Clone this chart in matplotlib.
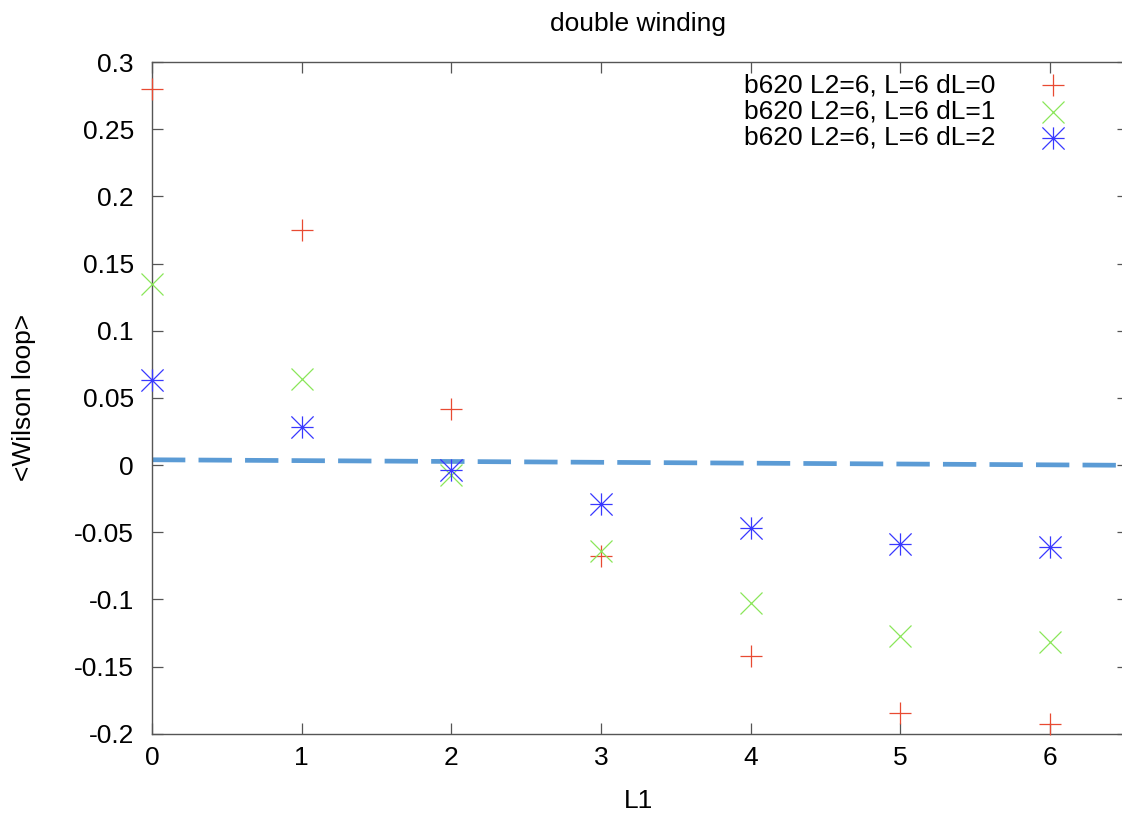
import matplotlib
matplotlib.use("Agg")
import matplotlib.pyplot as plt
import numpy as np
from matplotlib.path import Path

plt.rcParams['font.family'] = ['Liberation Sans', 'DejaVu Sans']
plt.rcParams['lines.scale_dashes'] = False

# ---- data ----
L1 = [0, 1, 2, 3, 4, 5, 6]
dL0 = [0.280, 0.175, 0.042, -0.068, -0.142, -0.1845, -0.193]
dL1 = [0.135, 0.064, -0.0075, -0.064, -0.103, -0.127, -0.132]
dL2 = [0.063, 0.0285, -0.004, -0.029, -0.047, -0.059, -0.061]
labels = ["b620 L2=6, L=6 dL=0", "b620 L2=6, L=6 dL=1", "b620 L2=6, L=6 dL=2"]
fit_x = [0.0, 6.52]
fit_y = [0.0039, -0.0002]
title = "double winding"
xlabel = "L1"
ylabel = "<Wilson loop>"
xticks = [0, 1, 2, 3, 4, 5, 6]
yticks = [-0.2, -0.15, -0.1, -0.05, 0, 0.05, 0.1, 0.15, 0.2, 0.25, 0.3]
ytick_labels = ["-0.2", "-0.15", "-0.1", "-0.05", "0", "0.05", "0.1", "0.15", "0.2", "0.25", "0.3"]

colors = ['#e84a32', '#8ae65a', '#3838ff']

# gnuplot-style star: plus + cross
star = Path([(-1, 0), (1, 0), (0, -1), (0, 1), (-1, -1), (1, 1), (-1, 1), (1, -1)],
            [Path.MOVETO, Path.LINETO] * 4)
markers = ['+', 'x', star]

W, H = 1122, 815
fig = plt.figure(figsize=(W / 100, H / 100), dpi=100)
left, right, top, bottom = 152, 1128, 62, 733.7
ax = fig.add_axes([left / W, 1 - bottom / H, (right - left) / W, (bottom - top) / H])

FS = 19
spine_col = '#555555'

# fit line
ax.plot(fit_x, fit_y, color='#5b9bd5', lw=3.4, linestyle=(0, (24, 9.5)),
        dash_capstyle='butt', zorder=1)

series = [dL0, dL1, dL2]
for ys, m, c in zip(series, markers, colors):
    ax.plot(L1, ys, linestyle='none', marker=m, markersize=16, markeredgewidth=0.9,
            markeredgecolor=c, markerfacecolor='none', clip_on=False, zorder=3)

ax.set_xlim(0, 6.52)
ax.set_ylim(-0.2, 0.3)
ax.set_xticks(xticks)
ax.set_yticks(yticks)
ax.set_yticklabels(ytick_labels)
ax.tick_params(axis='both', which='both', direction='in', length=8, width=0.9,
               color=spine_col, labelsize=FS, top=True, right=True)
ax.tick_params(axis='y', pad=13)
ax.tick_params(axis='x', pad=9)
for s in ax.spines.values():
    s.set_color(spine_col)
    s.set_linewidth(1.0)

# title and axis labels
fig.text(638.5 / W, 1 - 31.5 / H, title, ha='center', va='baseline', fontsize=FS)
ax.set_xlabel(xlabel, fontsize=FS)
ax.xaxis.label.set_va('baseline')
ax.xaxis.label.set_ha('center')
ax.xaxis.set_label_coords((638.5 - left) / (right - left), (bottom - 808) / (bottom - top))
ax.set_ylabel(ylabel, fontsize=FS)
ax.yaxis.label.set_va('center')
ax.yaxis.set_label_coords((24 - left) / (right - left), 0.5)

# legend (gnuplot style: text right-aligned, sample to the right)
text_x = (995 - left) / (right - left)
mark_x = (1053 - left) / (right - left)
rows_px = [85, 111.5, 138]
for lab, m, c, ry in zip(labels, markers, colors, rows_px):
    yy = (bottom - ry) / (bottom - top)
    ax.text(text_x, yy, lab, transform=ax.transAxes, ha='right', va='center', fontsize=FS)
    ax.plot([mark_x], [yy], transform=ax.transAxes, linestyle='none', marker=m,
            markersize=16, markeredgewidth=0.9, markeredgecolor=c,
            markerfacecolor='none', clip_on=False)

fig.savefig("out.png", dpi=100)
